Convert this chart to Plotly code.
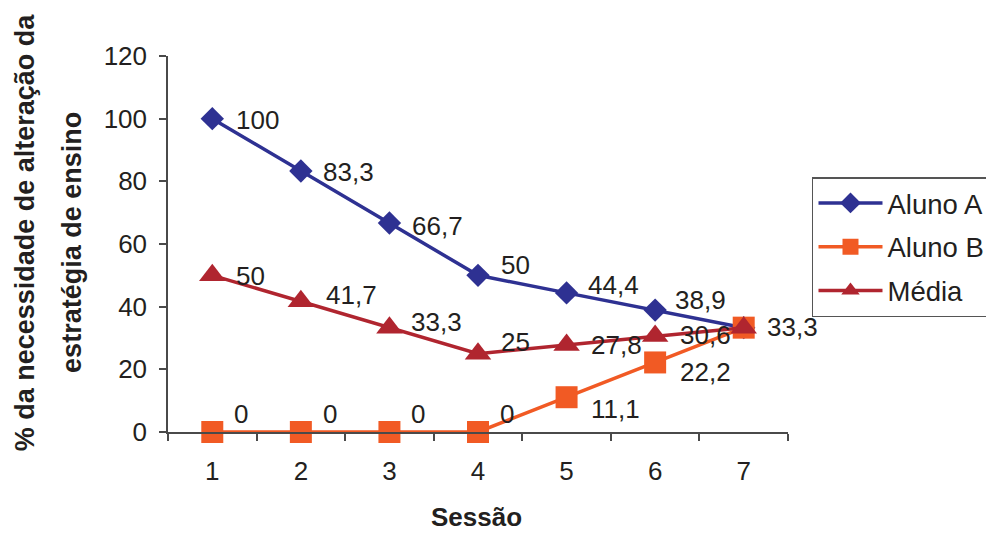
import plotly.graph_objects as go

# Data
sessoes = ["1", "2", "3", "4", "5", "6", "7"]
aluno_a = [100, 83.3, 66.7, 50, 44.4, 38.9, 33.3]
aluno_b = [0, 0, 0, 0, 11.1, 22.2, 33.3]
media = [50, 41.7, 33.3, 25, 27.8, 30.6, 33.3]
y_ticks = [0, 20, 40, 60, 80, 100, 120]

FONT = "Liberation Sans, Arial, sans-serif"
TEXT_COLOR = "#231f20"
AXIS_COLOR = "#4a4a4a"

series = [
    ("Aluno A", aluno_a, "#2e3192", "diamond", 18),
    ("Aluno B", aluno_b, "#f15a24", "square", 22),
    ("Média", media, "#b0252f", "triangle-up", 23),
]

fig = go.Figure()
for i, (name, vals, color, symbol, msize) in enumerate(series):
    fig.add_trace(go.Scatter(
        x=sessoes, y=vals, name=name, mode="lines+markers",
        line=dict(color=color, width=3.5),
        marker=dict(symbol=symbol, size=msize, color=color),
        legendgroup=f"g{i}", cliponaxis=False,
    ))

# Value label offsets (px) for each point: (dx, dy), dy positive = upward
label_offsets = {
    "Aluno A": [(22, -1), (20, -1), (21, -3), (21, 10), (19, 8), (18, 10), (21, 1)],
    "Aluno B": [(20, 18), (20, 18), (20, 18), (20, 18), (22, -12), (23, -10), None],
    "Média": [(22, -1), (23, 6), (20, 6), (21, 12), (22, 0), (23, 1), None],
}


def fmt(v):
    return f"{v:g}".replace(".", ",")


annotations = []
for name, vals, color, symbol, msize in series:
    for idx, (v, off) in enumerate(zip(vals, label_offsets[name])):
        if off is None:
            continue
        annotations.append(dict(
            x=idx, y=v, xref="x", yref="y", text=fmt(v), showarrow=False,
            xanchor="left", yanchor="middle", xshift=off[0], yshift=off[1],
            font=dict(family=FONT, size=26, color=TEXT_COLOR),
        ))

# Axis titles
annotations.append(dict(
    x=0.498, y=-0.226, xref="paper", yref="paper", text="<b>Sessão</b>",
    showarrow=False, xanchor="center", yanchor="middle",
    font=dict(family=FONT, size=26, color=TEXT_COLOR),
))
annotations.append(dict(
    x=-0.2306, y=0.531, xref="paper", yref="paper",
    text="<b>% da necessidade de alteração da</b>", textangle=-90,
    showarrow=False, xanchor="center", yanchor="middle",
    font=dict(family=FONT, size=27, color=TEXT_COLOR),
))
annotations.append(dict(
    x=-0.1548, y=0.503, xref="paper", yref="paper",
    text="<b>estratégia de ensino</b>", textangle=-90,
    showarrow=False, xanchor="center", yanchor="middle",
    font=dict(family=FONT, size=27, color=TEXT_COLOR),
))

fig.update_layout(
    width=986, height=534,
    margin=dict(l=168, r=198, t=56, b=102, autoexpand=False),
    paper_bgcolor="white", plot_bgcolor="white",
    font=dict(family=FONT, size=26, color=TEXT_COLOR),
    showlegend=True,
    legend=dict(
        x=1.0387, y=0.678, xanchor="left", yanchor="top",
        bgcolor="white", bordercolor="#555555", borderwidth=1.5,
        font=dict(family=FONT, size=27.5, color=TEXT_COLOR),
        itemwidth=64, tracegroupgap=5,
    ),
    annotations=annotations,
)

fig.update_xaxes(
    type="category", categoryorder="array", categoryarray=sessoes,
    tickson="boundaries", ticks="outside", ticklen=7, tickwidth=1.5,
    tickcolor=AXIS_COLOR, showline=True, linecolor=AXIS_COLOR, linewidth=1.5,
    showgrid=False, zeroline=False, range=[-0.5, 6.5],
    tickfont=dict(family=FONT, size=26, color=TEXT_COLOR),
    ticklabelstandoff=15,
)
fig.update_yaxes(
    range=[0, 120], tickvals=y_ticks, ticks="outside", ticklen=7, tickwidth=1.5,
    tickcolor=AXIS_COLOR, showline=True, linecolor=AXIS_COLOR, linewidth=1.5,
    showgrid=False, zeroline=False,
    tickfont=dict(family=FONT, size=26, color=TEXT_COLOR),
    ticklabelstandoff=7,
)

fig.write_html("out.html")
